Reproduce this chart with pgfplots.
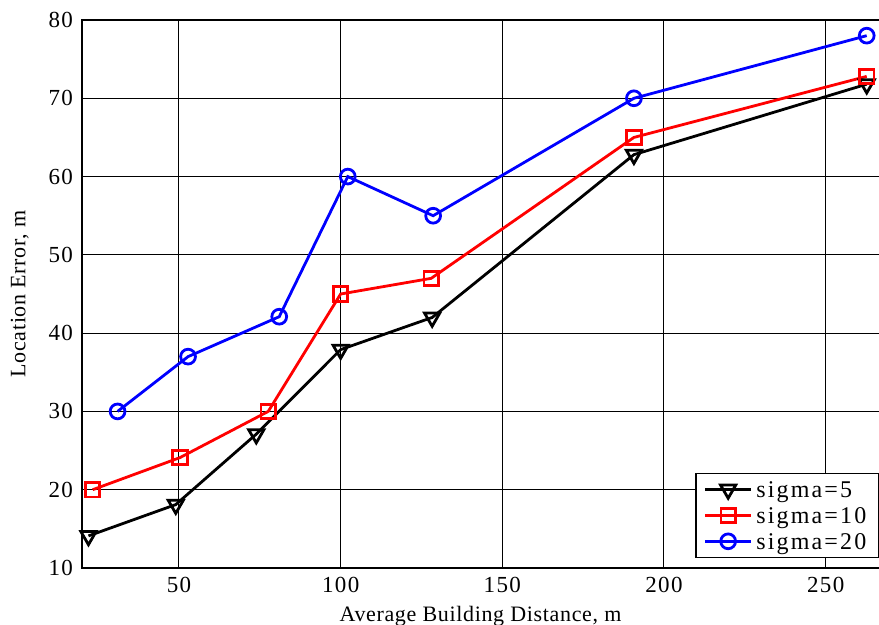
\documentclass[border=0pt]{standalone}
\usepackage{fontspec}
\setmainfont{Liberation Serif}
\usepackage{pgfplots}
\pgfplotsset{compat=1.18}
\begin{document}
\begin{tikzpicture}
\begin{axis}[
  name=ax,
  scale only axis,
  width=398.5pt, height=274pt,
  xmin=20, xmax=266.5, ymin=10, ymax=80,
  xtick={50,100,150,200,250},
  ytick={10,20,30,40,50,60,70,80},
  grid=major,
  major grid style={black, line width=0.5pt},
  axis line style={draw=none},
  xtick pos=left, ytick pos=left,
  tick align=inside,
  major tick length=4pt,
  tick style={black, line width=0.5pt},
  tick label style={font=\rmfamily\fontsize{11.5}{13}\selectfont\addfontfeature{LetterSpace=6}},
  /pgf/number format/assume math mode=true,
  xticklabel style={yshift=-1pt},
  yticklabel style={xshift=-1pt},
  xlabel={Average Building Distance, m},
  ylabel={Location Error, m},
  label style={font=\rmfamily\fontsize{11}{13}\selectfont\addfontfeature{LetterSpace=3}},
  xlabel style={yshift=0pt},
  ylabel style={yshift=3pt},
  legend cell align=left,
  legend style={draw=black, line width=0.7pt, font=\rmfamily\fontsize{12}{14}\selectfont\addfontfeature{LetterSpace=9}, inner xsep=4pt, inner ysep=2pt, row sep=1pt, at={(1,0)}, anchor=south east, yshift=5pt},
  every axis legend/.append style={nodes={text depth=0pt}},
  legend image code/.code={%
    \draw[mark repeat=2,mark phase=2,#1] plot coordinates {(0cm,0cm) (0.4cm,0cm) (0.8cm,0cm)};},
]
\addplot[black, line width=1.4pt, mark=triangle, mark options={rotate=180, scale=2.2, line width=1.4pt, solid}]
  coordinates {(22,14.1) (49,18.1) (73.9,27.1) (100,37.9) (128.3,42) (190.7,62.8) (262.7,71.8)};
\addlegendentry{sigma=5}
\addplot[red, line width=1.4pt, mark=square, mark options={scale=1.8, line width=1.4pt}]
  coordinates {(23.3,20) (50.3,24.1) (77.6,30) (100,45) (128,47) (190.7,65) (262.7,72.8)};
\addlegendentry{sigma=10}
\addplot[blue, line width=1.4pt, mark=o, mark options={scale=1.85, line width=1.4pt}]
  coordinates {(31,30) (52.8,37) (81,42.1) (102.2,60) (128.6,55) (190.7,70) (262.7,78)};
\addlegendentry{sigma=20}
\end{axis}
\draw[black, line width=0.9pt] (ax.north east) -- (ax.north west) -- (ax.south west) -- (ax.south east);
\pgfresetboundingbox
\useasboundingbox ([xshift=-41pt,yshift=-28.5pt]ax.south west) rectangle ([yshift=10pt]ax.north east);
\end{tikzpicture}
\end{document}
